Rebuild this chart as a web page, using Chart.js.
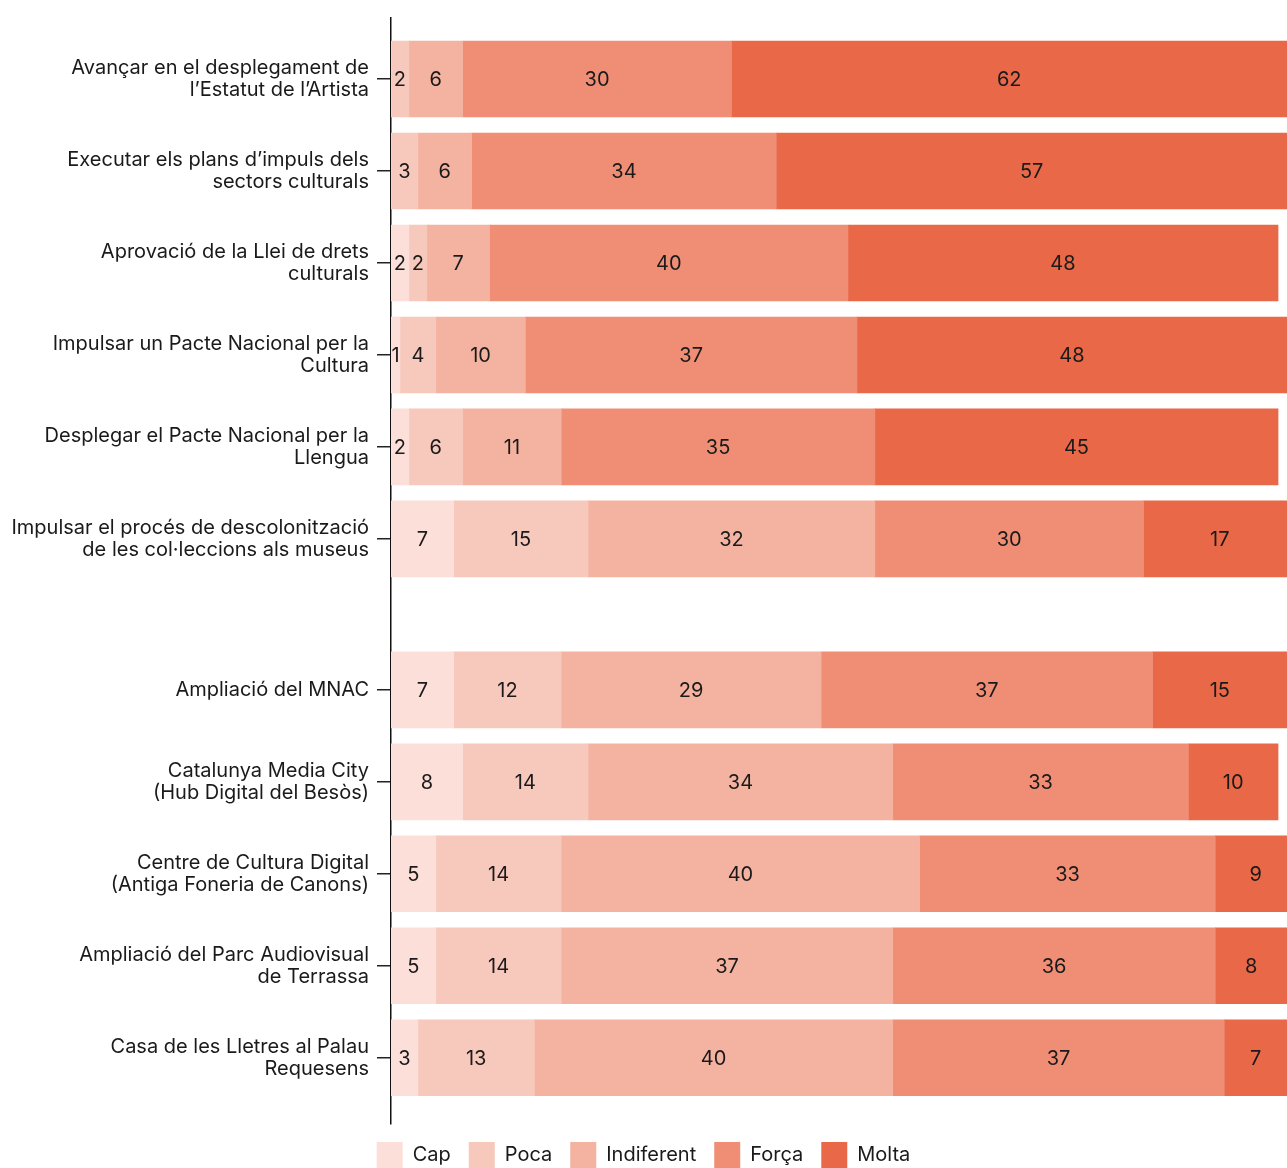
<!DOCTYPE html>
<html>
<head>
<meta charset="utf-8">
<script src="https://cdn.jsdelivr.net/npm/chart.js@4"></script>
<style>
  html, body { margin: 0; padding: 0; background: #fff; overflow: hidden; }
  #wrap { width: 1287px; height: 1178px; }
</style>
</head>
<body>
<div id="wrap"><canvas id="chart"></canvas></div>
<script>
const labels = [
  ["Avançar en el desplegament de", "l’Estatut de l’Artista"],
  ["Executar els plans d’impuls dels", "sectors culturals"],
  ["Aprovació de la Llei de drets", "culturals"],
  ["Impulsar un Pacte Nacional per la", "Cultura"],
  ["Desplegar el Pacte Nacional per la", "Llengua"],
  ["Impulsar el procés de descolonització", "de les col·leccions als museus"],
  "Ampliació del MNAC",
  ["Catalunya Media City", "(Hub Digital del Besòs)"],
  ["Centre de Cultura Digital", "(Antiga Foneria de Canons)"],
  ["Ampliació del Parc Audiovisual", "de Terrassa"],
  ["Casa de les Lletres al Palau", "Requesens"],
];
const cap        = [0, 0, 2, 1, 2, 7, 7, 8, 5, 5, 3];
const poca       = [2, 3, 2, 4, 6, 15, 12, 14, 14, 14, 13];
const indiferent = [6, 6, 7, 10, 11, 32, 29, 34, 40, 37, 40];
const forca      = [30, 34, 40, 37, 35, 30, 37, 33, 33, 36, 37];
const molta      = [62, 57, 48, 48, 45, 17, 15, 10, 9, 8, 7];

// first 6 rows are one block, the rest come after a gap
const firstGroupSize = 6;
const groupGap = 0.64;
const rowPos = labels.map((_, i) => i + (i >= firstGroupSize ? groupGap : 0));

const FONT = "Inter";
const TEXT = "#1a1a1a";

function series(label, values, color) {
  return {
    label: label,
    data: values.map((v, i) => ({ x: v, y: rowPos[i] })),
    backgroundColor: color,
    borderWidth: 0,
    barThickness: 76,
  };
}

const valueLabels = {
  id: "valueLabels",
  afterDatasetsDraw(chart) {
    const ctx = chart.ctx;
    ctx.save();
    ctx.font = "20px " + FONT;
    ctx.fillStyle = TEXT;
    ctx.textAlign = "center";
    ctx.textBaseline = "middle";
    chart.data.datasets.forEach((ds, d) => {
      chart.getDatasetMeta(d).data.forEach((bar, i) => {
        const v = ds.data[i].x;
        if (!v) return;
        const p = bar.getCenterPoint();
        ctx.fillText(String(v), p.x, p.y + 1);
      });
    });
    ctx.restore();
  },
};

new Chart(document.getElementById("chart"), {
  type: "bar",
  data: {
    datasets: [
      series("Cap", cap, "#fcdfd8"),
      series("Poca", poca, "#f7c8bc"),
      series("Indiferent", indiferent, "#f4b3a1"),
      series("Força", forca, "#ef8e75"),
      series("Molta", molta, "#e96847"),
    ],
  },
  options: {
    indexAxis: "y",
    responsive: true,
    maintainAspectRatio: false,
    animation: false,
    layout: { padding: { top: 18, left: 0, right: 0, bottom: 0 } },
    scales: {
      x: { stacked: true, min: 0, max: 100, display: false },
      y: {
        type: "linear",
        stacked: true,
        reverse: true,
        offset: false,
        min: -0.663,
        max: 11.36,
        afterBuildTicks: (s) => { s.ticks = rowPos.map((v) => ({ value: v })); },
        afterFit: (s) => {
          s.width = 391;
          s.paddingTop = 0;
          s.paddingBottom = 0;
        },
        ticks: {
          autoSkip: false,
          padding: 8,
          color: TEXT,
          font: { family: FONT, size: 20, lineHeight: 1.1 },
          callback: (value, index) => labels[index],
        },
        grid: {
          offset: false,
          drawOnChartArea: false,
          drawTicks: true,
          tickLength: 14,
          color: "#222",
          lineWidth: 1.5,
        },
        border: { display: true, color: "#111", width: 1.5 },
      },
    },
    plugins: {
      legend: {
        position: "bottom",
        labels: {
          boxWidth: 26,
          boxHeight: 26,
          padding: 18,
          color: TEXT,
          font: { family: FONT, size: 20 },
        },
      },
      tooltip: { enabled: false },
    },
  },
  plugins: [valueLabels],
});
</script>
</body>
</html>
